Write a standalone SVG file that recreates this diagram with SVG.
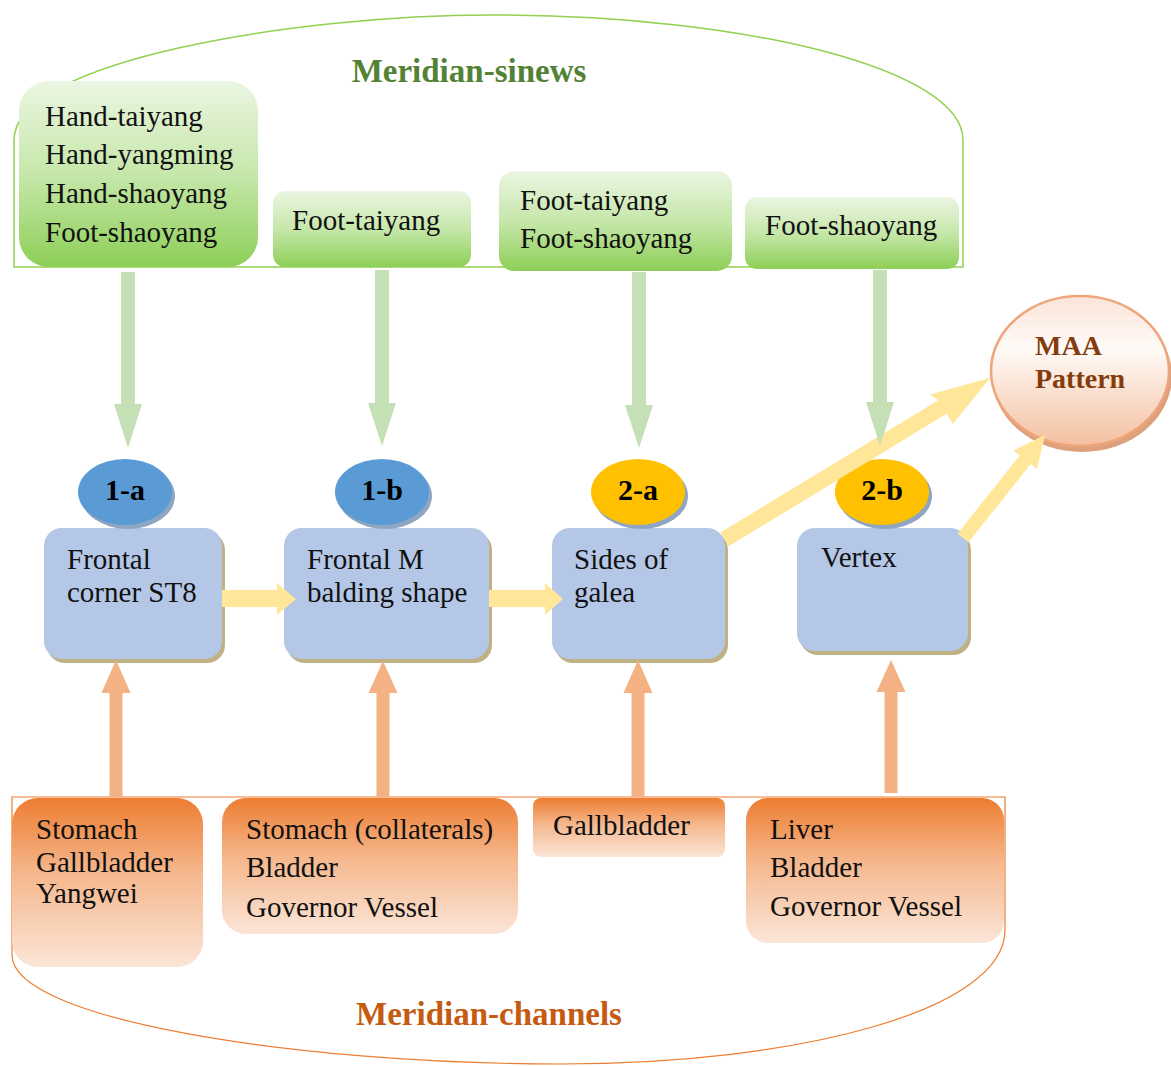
<svg xmlns="http://www.w3.org/2000/svg" width="1171" height="1066" viewBox="0 0 1171 1066">
<defs>
<linearGradient id="gGreen" x1="0" y1="0" x2="0" y2="1"><stop offset="0" stop-color="#ebf6e3"/><stop offset="0.5" stop-color="#c6e7aa"/><stop offset="1" stop-color="#8dcf57"/></linearGradient>
<linearGradient id="gOrange" x1="0" y1="0" x2="0" y2="1"><stop offset="0" stop-color="#ed7d31"/><stop offset="0.45" stop-color="#f5b88e"/><stop offset="1" stop-color="#fbe5d7"/></linearGradient>
<linearGradient id="gMAA" x1="0" y1="0" x2="0" y2="1"><stop offset="0" stop-color="#fbe4d8"/><stop offset="0.35" stop-color="#fffaf7"/><stop offset="1" stop-color="#f4c0a0"/></linearGradient>
<style>
.t{font-family:"Liberation Serif","Times New Roman",serif;font-size:29px;fill:#111}
.lab{font-family:"Liberation Serif","Times New Roman",serif;font-size:30px;font-weight:bold;fill:#000;text-anchor:middle}
.title{font-family:"Liberation Serif","Times New Roman",serif;font-size:33px;font-weight:bold}
.maa{font-family:"Liberation Serif","Times New Roman",serif;font-size:28px;font-weight:bold;fill:#843c0c}
.gbox{fill:url(#gGreen)}
.obox{fill:url(#gOrange)}
.bbox{fill:#b4c7e7}
.bshadow{fill:#bfb184}
.eshadow{fill:#8ea6c2}
.ga{fill:#c5e0b4}
.oa{fill:#f4b183}
.ya{fill:#ffe699}
</style>
</defs>
<rect width="1171" height="1066" fill="#ffffff"/>

<g id="containers">
<path id="sinews-frame" d="M14,267 L14,140 C14,60 300,15 490,15 C750,15 963,70 963,140 L963,267 Z" fill="none" stroke="#92d050" stroke-width="1.5"/>
<path id="channels-frame" d="M12,797 L1005,797 L1005,930 C1005,1010 800,1064 560,1064 C300,1064 12,1020 12,955 Z" fill="none" stroke="#ed7d31" stroke-width="1.2"/>
<text class="title" x="469" y="82" fill="#548235" text-anchor="middle">Meridian-sinews</text>
<text class="title" x="489" y="1025" fill="#c55a11" text-anchor="middle">Meridian-channels</text>
</g>

<g id="sinew-boxes">
<g id="s1"><rect class="gbox" x="19" y="81" width="239" height="186" rx="30"/>
<text class="t" x="45" y="126">Hand-taiyang</text><text class="t" x="45" y="164">Hand-yangming</text><text class="t" x="45" y="203">Hand-shaoyang</text><text class="t" x="45" y="242">Foot-shaoyang</text></g>
<g id="s2"><rect class="gbox" x="273" y="191" width="198" height="76" rx="12"/><text class="t" x="292" y="230">Foot-taiyang</text></g>
<g id="s3"><rect class="gbox" x="499" y="171" width="233" height="100" rx="15"/><text class="t" x="520" y="210">Foot-taiyang</text><text class="t" x="520" y="248">Foot-shaoyang</text></g>
<g id="s4"><rect class="gbox" x="745" y="197" width="214" height="72" rx="12"/><text class="t" x="765" y="235">Foot-shaoyang</text></g>
</g>

<g id="region-boxes">
<g id="b1"><rect class="bshadow" x="47" y="532" width="178" height="131" rx="18"/><rect class="bbox" x="44" y="528" width="178" height="131" rx="18"/>
<text class="t" x="67" y="569">Frontal</text><text class="t" x="67" y="602">corner ST8</text></g>
<g id="b2"><rect class="bshadow" x="287" y="532" width="205" height="131" rx="18"/><rect class="bbox" x="284" y="528" width="205" height="131" rx="18"/>
<text class="t" x="307" y="569">Frontal M</text><text class="t" x="307" y="602">balding shape</text></g>
<g id="b3"><rect class="bshadow" x="555" y="532" width="173" height="131" rx="18"/><rect class="bbox" x="552" y="528" width="173" height="131" rx="18"/>
<text class="t" x="574" y="569">Sides of</text><text class="t" x="574" y="602">galea</text></g>
<g id="b4"><rect class="bshadow" x="800" y="532" width="171" height="123" rx="18"/><rect class="bbox" x="797" y="528" width="171" height="123" rx="18"/>
<text class="t" x="821" y="567">Vertex</text></g>
</g>

<g id="badges">
<g id="e1a"><ellipse class="eshadow" cx="128" cy="496" rx="47" ry="33"/><ellipse cx="125" cy="492" rx="47" ry="33" fill="#5b9bd5"/><text class="lab" x="125" y="500">1-a</text></g>
<g id="e1b"><ellipse class="eshadow" cx="385" cy="496" rx="47" ry="33"/><ellipse cx="382" cy="492" rx="47" ry="33" fill="#5b9bd5"/><text class="lab" x="382" y="500">1-b</text></g>
<g id="e2a"><ellipse class="eshadow" cx="641" cy="496" rx="47" ry="33"/><ellipse cx="638" cy="492" rx="47" ry="33" fill="#ffc000"/><text class="lab" x="638" y="500">2-a</text></g>
<g id="e2b"><ellipse class="eshadow" cx="885" cy="496" rx="47" ry="33"/><ellipse cx="882" cy="492" rx="47" ry="33" fill="#ffc000"/><text class="lab" x="882" y="500">2-b</text></g>
</g>

<g id="maa">
<ellipse cx="1082" cy="376" rx="90" ry="76" fill="#dca07c"/>
<ellipse cx="1080" cy="371" rx="89" ry="75" fill="url(#gMAA)" stroke="#efa57a" stroke-width="2.5"/>
<text class="maa" x="1035" y="355">MAA</text>
<text class="maa" x="1035" y="388">Pattern</text>
</g>

<g id="channel-boxes">
<g id="c1"><rect class="obox" x="12" y="798" width="191" height="169" rx="26"/>
<text class="t" x="36" y="839">Stomach</text><text class="t" x="36" y="872">Gallbladder</text><text class="t" x="36" y="903">Yangwei</text></g>
<g id="c2"><rect class="obox" x="222" y="798" width="296" height="136" rx="24"/>
<text class="t" x="246" y="839">Stomach (collaterals)</text><text class="t" x="246" y="877">Bladder</text><text class="t" x="246" y="917">Governor Vessel</text></g>
<g id="c3"><rect class="obox" x="533" y="798" width="192" height="59" rx="8"/><text class="t" x="553" y="835">Gallbladder</text></g>
<g id="c4"><rect class="obox" x="746" y="798" width="258" height="145" rx="22"/>
<text class="t" x="770" y="839">Liver</text><text class="t" x="770" y="877">Bladder</text><text class="t" x="770" y="916">Governor Vessel</text></g>
</g>

<g id="connectors">
<polygon class="ga" points="121,272 135,272 135,404 142,404 128,448 114,404 121,404"/>
<polygon class="ga" points="375,270 389,270 389,403 396,403 382,446 368,403 375,403"/>
<polygon class="ga" points="632,272 646,272 646,405 653,405 639,448 625,405 632,405"/>
<g transform="translate(722,541) rotate(-31.3)"><polygon class="ya" points="3,-8 258,-8 254,-17 314,0 258,20 258,8 3,8"/></g>
<polygon class="ga" points="873,270 887,270 887,402 894,402 880,446 866,402 873,402"/>
<g transform="translate(963,538) rotate(-51.5)"><polygon class="ya" points="0,-7 100,-7 100,-15 132,0 100,15 100,7 0,7"/></g>
<polygon class="ya" points="222,590 277,590 277,583 296,599 277,615 277,607 222,607"/>
<polygon class="ya" points="489,590 545,590 545,583 563,599 545,615 545,607 489,607"/>
<polygon class="oa" points="109.5,797 122.5,797 122.5,693 130.5,693 116,660 101.5,693 109.5,693"/>
<polygon class="oa" points="376.5,797 389.5,797 389.5,693 397.5,693 383,661 368.5,693 376.5,693"/>
<polygon class="oa" points="631.5,797 644.5,797 644.5,693 652.5,693 638,660 623.5,693 631.5,693"/>
<polygon class="oa" points="884.5,793 897.5,793 897.5,692 905.5,692 891,660 876.5,692 884.5,692"/>
</g>
</svg>
